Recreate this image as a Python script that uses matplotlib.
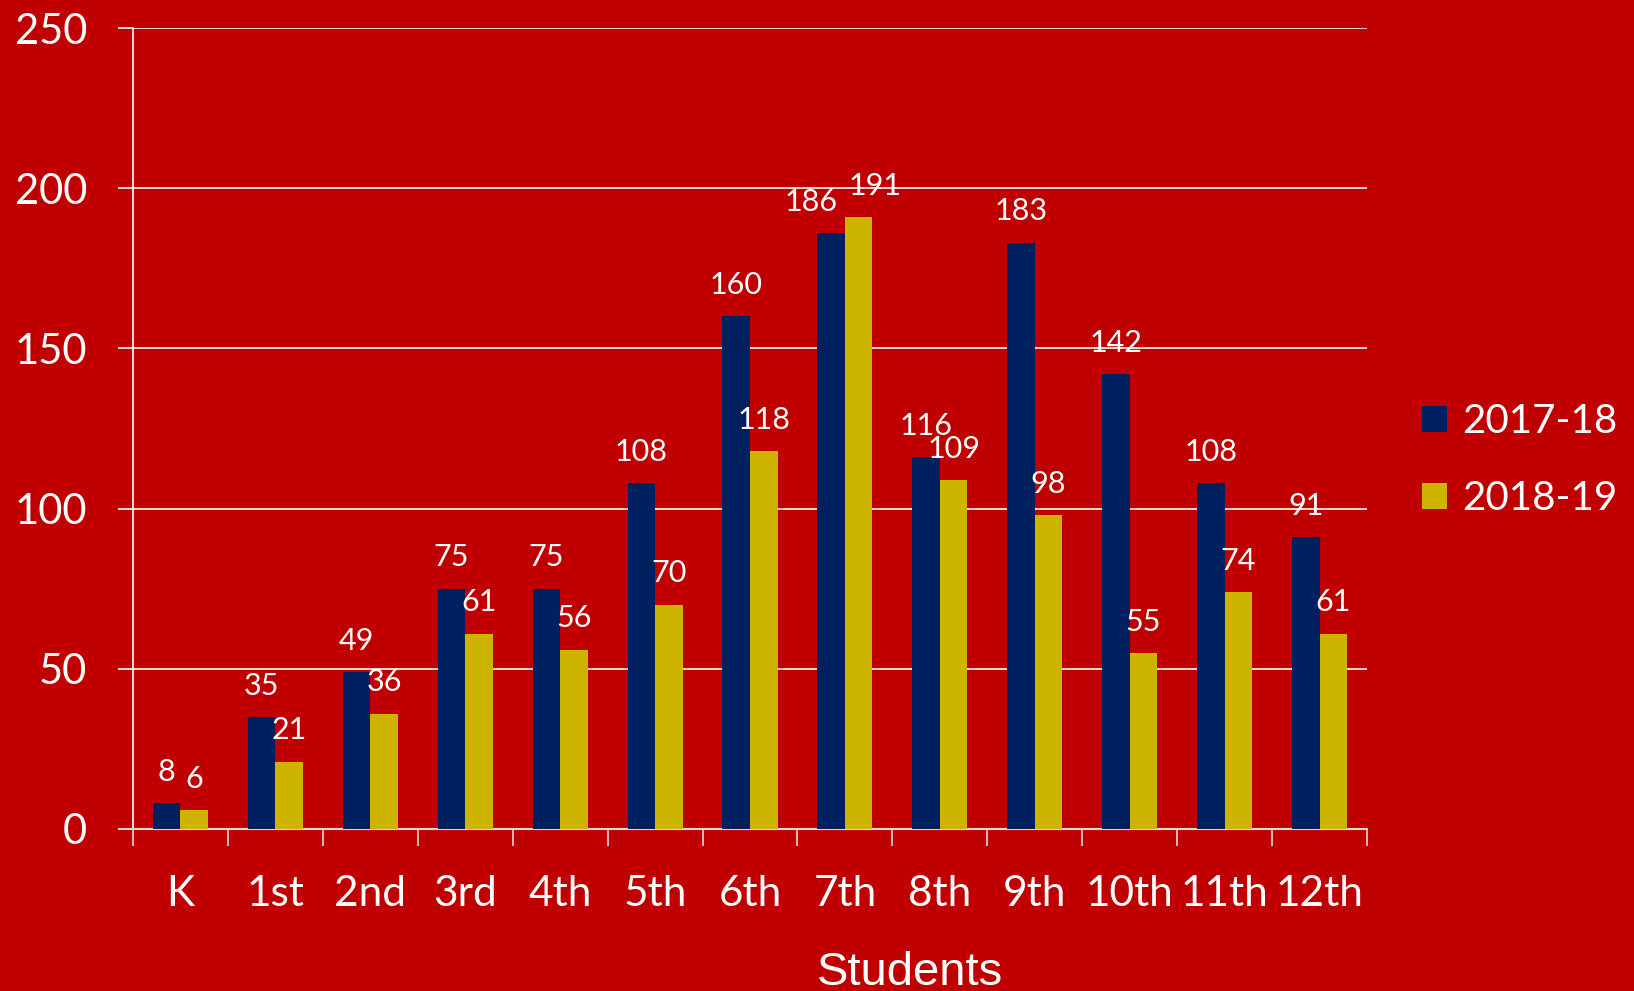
import matplotlib
matplotlib.use("Agg")
import matplotlib.pyplot as plt
import numpy as np

categories = ["K", "1st", "2nd", "3rd", "4th", "5th", "6th", "7th", "8th", "9th", "10th", "11th", "12th"]
series_names = ["2017-18", "2018-19"]
values_2017 = [8, 35, 49, 75, 75, 108, 160, 186, 116, 183, 142, 108, 91]
values_2018 = [6, 21, 36, 61, 56, 70, 118, 191, 109, 98, 55, 74, 61]
y_ticks = [0, 50, 100, 150, 200, 250]
x_title = "Students"

BG = "#C00000"
NAVY = "#002060"
GOLD = "#CDB400"
FONT = ["Lato", "DejaVu Sans"]

plt.rcParams["font.family"] = FONT

fig = plt.figure(figsize=(16.34, 9.91), dpi=100, facecolor=BG)
ax = fig.add_axes([133 / 1634, 1 - 829 / 991, (1367 - 133) / 1634, (829 - 28) / 991])
ax.set_facecolor(BG)

n = len(categories)
x = np.arange(n)
w = 0.29
b1 = ax.bar(x - w / 2, values_2017, width=w, color=NAVY, label=series_names[0], zorder=3)
b2 = ax.bar(x + w / 2, values_2018, width=w, color=GOLD, label=series_names[1], zorder=3)

# labels nudged sideways to avoid collisions (series index, category index) -> points
nudge = {(0, 7): -14.5, (1, 7): 11.5}

for si, bars in enumerate((b1, b2)):
    for ci, rect in enumerate(bars):
        h = rect.get_height()
        ax.annotate(f"{h:g}", (rect.get_x() + rect.get_width() / 2, h),
                    xytext=(nudge.get((si, ci), 0), 22.5), textcoords="offset points",
                    ha="center", va="center", color="white", fontsize=22, zorder=4)

ax.set_xlim(-0.5, n - 0.5)
ax.set_ylim(0, 250)
ax.set_yticks(y_ticks)
ax.yaxis.grid(True, color="white", linewidth=1.2, zorder=0)
ax.set_axisbelow(True)

# category boundary ticks
ax.set_xticks(np.arange(-0.5, n, 1.0))
ax.set_xticklabels([])
ax.set_xticks(x, minor=True)
ax.set_xticklabels(categories, minor=True)
ax.tick_params(axis="x", which="major", length=12, color="#D9D9D9", width=1.2, direction="out")
ax.tick_params(axis="x", which="minor", length=0, pad=33, labelsize=30.5, labelcolor="white")
ax.tick_params(axis="y", length=11, color="white", width=1.2, pad=22, labelsize=30, labelcolor="white")

for s in ["top", "right"]:
    ax.spines[s].set_visible(False)
ax.spines["left"].set_color("white")
ax.spines["left"].set_linewidth(1.2)
ax.spines["bottom"].set_color("#D9D9D9")
ax.spines["bottom"].set_linewidth(1.5)

fig.text(910 / 1634, 1 - 973 / 991, x_title, ha="center", va="center",
         color="white", fontsize=34, family=["Liberation Sans", "DejaVu Sans"])

leg = fig.legend(handles=[b1, b2], labels=series_names, loc="center left",
                 bbox_to_anchor=(1422 / 1634, 1 - 460 / 991), frameon=False,
                 borderaxespad=0, borderpad=0,
                 fontsize=29, labelcolor="white", handlelength=0.62, handleheight=0.62,
                 handletextpad=0.38, labelspacing=1.0)

fig.savefig("out.png", dpi=100, facecolor=BG)
